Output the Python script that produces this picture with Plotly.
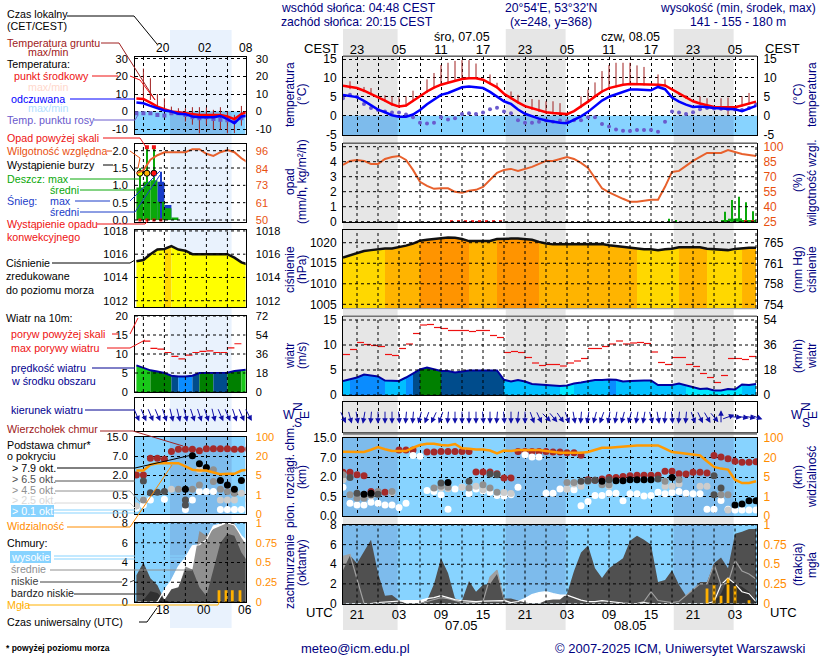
#!/usr/bin/python3
import math
import plotly.graph_objects as go

W, H = 820, 660
FONT = "Liberation Sans"
NAVY = "#000080"
SKY = "#87d3ff"
SKY_NIGHT = "#7dbbec"
BAND = "#e6e6e6"
BAND_LEFT = "#e9f2fd"
GRID_DASH = "3px,3px"
PX_PER_HOUR = 7.0
NO_COLOR = "rgba(0,0,0,0)"

# hours are counted in UTC from 06.05 00:00
HOURS = list(range(19, 79))
LEFT_HOURS = list(range(14, 31))

# sunset / sunrise pairs
NIGHTS = [(19, 26.8), (42.25, 50.8), (66.25, 74.8)]
LEFT_NIGHT = (18.8, 27.6)

# temperature, main panel
TEMP = [7.9, 7.6, 7.3, 6.6, 5.8, 4.8, 4.0, 3.0, 2.4, 2.7, 3.9, 5.3, 6.4, 7.4, 8.2, 8.7, 9.3, 9.7, 9.9, 9.9,
        9.5, 8.6, 7.5, 5.8, 4.6, 3.5, 2.5, 1.9, 1.3, 0.9, 0.7, 0.6, 0.4, 1.2, 2.4, 3.7, 5.1, 6.4, 7.3, 7.8,
        8.2, 8.4, 8.4, 8.2, 8.2, 8.2, 8.0, 6.9, 5.8, 4.8, 3.8, 3.2, 2.7, 2.3, 2.2, 2.2, 2.2, 2.7, 3.2, 3.7]
FEELS = [5.5, 5.2, 4.9, 3.9, 2.8, 1.6, 0.9, 0.1, -0.3, -0.3, 0.3, 1.5, 3.0, 4.2, 5.5, 6.0, 6.8, 7.5, 7.7, 7.6,
         7.3, 6.3, 5.1, 3.8, 3.1, 1.6, 0.5, -0.2, -0.8, -1.3, -1.6, -1.9, -2.0, -1.2, -0.2, 1.0, 2.6, 4.0, 5.0, 5.6,
         6.2, 6.9, 6.9, 6.8, 6.7, 7.6, 7.0, 4.8, 3.7, 2.9, 2.3, 2.4, 2.1, 2.0, 1.9, 1.8, 1.7, 1.2, 1.9, 2.6]
DEW = [4.6, 5.5, 5.0, 3.1, 2.0, 1.5, 1.1, 0.8, 0.8, 0.3, -0.4, -1.9, -2.1, -1.9, -0.4, -1.0, -0.7, 0.4, 0.6, 0.4,
       0.8, 1.7, 2.1, 1.1, 0.6, -1.2, -1.9, -1.9, -1.6, -1.3, -1.6, -1.3, -1.4, -1.2, -1.2, -0.4, -0.4, -2.2, -2.9, -3.7,
       -4.0, -4.1, -3.8, -3.8, -3.8, -4.3, -1.6, 1.1, 0.8, 0.4, 0.9, 1.7, 2.0, 1.9, 1.8, 1.7, 1.6, 1.5, 2.0, 2.9]
BAND_HOURS = [19, 21, 24, 27, 30, 33, 36, 39, 42, 45, 48, 51, 54, 57, 60, 63, 65, 66, 69, 72, 75, 78]
TEMP_MAX = [8.5, 8.0, 5.6, 3.3, 6.0, 8.8, 10.2, 10.1, 6.6, 3.4, 1.5, 1.0, 4.2, 7.9, 8.9, 8.7, 8.5, 7.4, 4.3, 2.8, 2.7, 4.1]
TEMP_MIN = [7.4, 6.5, 3.7, 1.4, 4.8, 7.6, 9.0, 8.8, 5.0, 1.7, 0.3, -0.2, 3.0, 6.8, 7.8, 7.8, 7.6, 6.2, 3.3, 1.9, 1.8, 3.3]
FEELS_MAX = [6.2, 5.6, 2.4, 0.4, 2.2, 6.0, 8.0, 7.9, 4.5, 1.1, -0.7, -1.3, 1.7, 5.6, 7.5, 7.3, 7.6, 5.4, 2.8, 2.5, 2.3, 3.1]
FEELS_MIN = [4.8, 3.4, 0.3, -1.4, 0.6, 4.5, 6.6, 6.4, 2.7, -0.7, -2.6, -3.2, -0.1, 4.0, 6.0, 6.0, 6.2, 3.9, 1.8, 1.4, 1.0, 2.0]
GROUND_HOURS = [20, 22, 23, 25, 26, 27, 28, 29, 31, 32, 33, 34, 35, 36, 37, 38, 40, 41, 43, 44, 46, 47, 48, 49, 50,
                53, 54, 55, 56, 57, 58, 59, 60, 61, 62, 64, 65, 67, 68, 70, 71, 73, 74, 76, 77]
GROUND_MAX = [9.1, 7.6, 7.3, 5.4, 5.1, 4.9, 5.1, 6.6, 9.6, 11.3, 13.4, 14.0, 14.5, 14.7, 14.7, 13.8, 10.9, 8.7, 6.4, 5.5, 4.4, 4.2, 3.8, 3.8, 3.3,
              5.1, 6.9, 8.8, 11.8, 13.4, 14.0, 14.0, 14.0, 13.3, 12.9, 10.9, 9.6, 6.0, 5.4, 5.1, 4.6, 4.6, 4.8, 5.1, 6.0]
GROUND_MIN = [7.0, 6.2, 5.4, 3.6, 2.6, 2.0, 2.4, 3.6, 6.0, 7.2, 8.0, 8.5, 9.0, 9.4, 9.7, 9.7, 8.3, 7.2, 4.3, 3.2, 1.5, 1.0, 0.5, 0.4, 0.2,
              2.0, 3.4, 4.8, 6.1, 7.0, 7.5, 7.9, 8.1, 8.1, 8.0, 7.9, 7.7, 5.4, 4.4, 2.9, 2.4, 1.4, 0.2, 2.4, 2.9]

# temperature, left panel
L_TEMP = [7.5, 7.2, 5.1, 2.8, 1.3, 0.0, -0.4, -1.0, -1.5, -1.9, -1.9, -1.9, -1.9, -2.8, -4.3, -1.5, 0.0]
L_FEELS = [5.1, 4.7, 3.2, 1.9, 0.6, 0.0, -1.3, -1.5, -2.8, -3.2, -3.4, -3.2, -2.5, -4.3, -6.6, -2.8, -2.3]
L_DEW = [-1.0, -0.9, -0.9, -1.9, -2.3, -0.9, -0.9, -1.9, -3.2, -3.8, -3.2, -4.3, -4.7, -5.0, -5.7, -3.8, -3.0]
L_TEMP_MAX = [13, 11, 9, 7, 6, 5, 4.5, 4, 3, 2, 1.5, 1.5, 1.5, 1, 0, 1, 1]
L_FEELS_MIN = [-3, -3, -3, -4, -4, -5, -5, -6, -7, -8, -9, -10, -10, -10, -10, -7, -6]
L_GROUND_HOURS = [15, 16, 17, 18, 19, 20, 21, 22, 23, 24, 25, 26, 27, 28, 29]
L_GROUND_MAX = [24.5, 19, 10, 7.5, 2.8, 1.9, 1.9, 2.5, 2.5, 2.3, 1, 2.5, 0, -1.9, 3.2]
L_GROUND_MIN = [7.5, 6.6, 1.9, 0, -1, -1.9, -5.7, -7.5, -12.4, -7.5, -10.4, -10.4, -12.4, -12.3, -8.1]

# precipitation, humidity
HUMIDITY = [82, 86, 87, 86, 83, 83, 88, 90, 91, 87, 77, 65, 61, 58, 58.5, 58.5, 55, 54, 56, 57,
            60, 67, 74, 77, 78, 76, 78, 80, 83, 86, 86, 88, 90, 88, 84, 79, 68.5, 58.5, 54.5, 51,
            48, 45, 45, 46, 47, 47, 60, 75, 76, 81, 86, 90, 94, 94, 94, 97, 95, 93, 92, 91]
CONV_HOURS = [34.5, 35.5, 36.5, 37.5, 38.5, 39.5, 40.5, 41.5, 76.5, 77.5]
RAIN_MAX_HOURS = [65.5, 66.5, 73.5, 74.5, 75.5, 76.5, 77.5]
RAIN_MAX = [0.2, 0.1, 0.67, 1.45, 1.67, 1.3, 0.7]
RAIN_MEAN_HOURS = [73.5, 74.5, 75.5, 76.5, 77.5]
RAIN_MEAN = [0.05, 0.2, 0.22, 0.1, 0.05]
L_HUMIDITY = [81, 83, 90, 93, 95, 95, 95, 95, 97, 97, 94, 92.5, 95, 96.5, 95, 91, 88]
L_RAIN_HOURS = [14.5, 15.5, 16.5, 17.5, 18.5, 19.5]
L_RAIN = [0.94, 1.1, 1.15, 0.53, 0.34, 0.07]
L_SNOW_HOURS = [17.5, 18.5]
L_SNOW = [1.1, 0.43]
L_SPIKE_HOURS = [14.5, 15.5, 16.5]
L_SPIKE = [1.49, 2.1, 2.1]
L_SNOW_SPIKE = [17.5, 1.39]
L_OVER_HOURS = [15.5, 16.5]
L_OVER = [2.1, 2.1]
L_STORM = [1.35, 1.35, 1.35]
L_STORM_COLORS = ["#ffff00", "#ffb000", "#ff1010"]
L_CONV_HOURS = [14.5, 15.5, 16.5, 17.5]

# pressure
PRESSURE = [1016.4, 1016.9, 1017.4, 1018.0, 1018.2, 1018.4, 1018.6, 1018.6, 1018.9, 1019.3, 1019.8, 1020.5, 1020.7, 1020.9, 1021.2, 1021.3,
            1021.2, 1020.9, 1020.4, 1020.4, 1020.4, 1020.44, 1020.9, 1021.0, 1021.0, 1021.0, 1020.9, 1020.7, 1020.2,
            1019.8, 1019.6, 1019.6, 1019.6, 1019.7, 1019.7, 1019.7, 1019.7, 1019.7, 1019.4, 1019.2, 1019.0, 1018.8, 1018.55, 1018.4, 1018.4,
            1018.2, 1018.4, 1018.55, 1018.9, 1018.9, 1018.9, 1018.9, 1018.55, 1018.4, 1018.2, 1018.2, 1018.5, 1018.7, 1018.8, 1018.8]
L_PRESSURE = [1015.4, 1015.5, 1016.0, 1016.4, 1016.45, 1016.7, 1016.4, 1016.3, 1016.0, 1016.0, 1016.0, 1016.0, 1016.0, 1016.0, 1015.7, 1015.3, 1015.1]

# wind
WIND = [2.8, 3.1, 3.5, 4.1, 3.9, 3.7, 2.9, 2.8, 2.8, 3.5, 4.3, 5.1, 5.5, 5.1, 4.8, 4.8, 4.5, 4.7, 4.9, 4.9,
        4.9, 4.9, 4.9, 3.04, 2.7, 3.0, 2.7, 2.2, 2.1, 2.0, 2.0, 1.8, 1.9, 2.3, 2.5, 2.8, 3.0, 3.0, 3.1, 3.04,
        2.7, 2.8, 2.9, 2.9, 2.9, 2.0, 2.0, 2.0, 2.3, 1.95, 1.5, 1.2, 1.3, 0.9, 0.9, 1.2, 1.1, 2.1, 2.0, 2.2]
GUST = [8.1, 9.1, 10.5, 10.1, 9.9, 9.7, 8.1, 7.9, 9.3, 10.2, 12.3, 14.0, 14.1, 13.5, 13.3, 12.9, 12.9, 12.9, 12.7, 12.9,
        12.9, 11.9, 11.5, 8.5, 8.7, 8.5, 7.5, 6.4, 5.9, 6.1, 6.1, 5.8, 6.4, 6.8, 7.3, 9.3, 9.3, 9.7, 10.2, 10.8,
        10.2, 10.4, 10.5, 10.3, 8.6, 6.5, 6.1, 7.5, 7.5, 6.1, 5.7, 4.3, 3.5, 2.5, 3.9, 7.3, 7.3, 7.1, 7.7]
WIND_DIR = [335, 345, 350, 10, 5, 0, 0, 0, 355, 5, 5, 15, 20, 25, 20, 5, 0, 0, 0, 0,
            355, 0, 5, 355, 0, 5, 0, 340, 335, 315, 320, 325, 340, 350, 5, 10, 15, 20, 10, 10,
            15, 15, 10, 10, 345, 350, 5, 355, 5, 5, 340, 335, 330, 320, 180, 250, 275, 280, 280, 290]
L_WIND = [7.0, 6.3, 5.7, 5.4, 5.0, 4.3, 4.1, 4.1, 4.3, 5.0, 5.0, 4.95, 4.95, 5.05, 5.5, 5.8, 5.9]
L_GUST_HOURS = [15, 16, 17, 18, 19, 20, 21, 22, 23, 24, 25, 26, 27, 28]
L_GUST = [13.4, 11.5, 11.3, 10.4, 9.4, 8.7, 9.7, 10.4, 10.7, 10.8, 10.4, 10.4, 11.6, 12.7]
L_WIND_DIR = [335, 335, 335, 335, 340, 345, 345, 345, 340, 340, 340, 345, 335, 335, 340, 335, 330]

# cloud base, as positions on the 0 / 0.5 / 2 / 7 / 15 km scale
SCALE_TICKS = [0, 1, 2, 3, 4]
TOP_H = [19, 20, 21, 22, 23, 24, 25, 27, 28, 29, 31, 32, 33, 34, 35, 36, 37, 38, 39, 40, 41, 42, 43, 44, 45, 46, 47, 48,
         49, 50, 51, 52, 53, 54, 55, 56, 57, 58, 59, 60, 61, 62, 63, 64, 65, 66, 67, 68, 69, 70, 71, 72, 73, 74, 75, 76, 77, 78]
TOP_L = [2.24, 2.24, 2.12, 2.07, 1.26, 1.22, 1.22, 3.38, 3.38, 3.38, 3.28, 3.28, 3.31, 3.31, 3.31, 3.31, 3.31, 2.26, 2.26, 2.26, 2.17, 1.95, 1.95, 3.31, 3.31, 3.31, 3.31, 3.31,
         3.28, 3.28, 3.24, 3.24, 3.12, 1.86, 1.83, 1.90, 1.98, 1.98, 2.03, 2.07, 2.09, 2.09, 2.09, 2.09, 2.29, 2.29, 2.17, 2.16, 2.24, 2.24, 2.21, 3.10, 3.03, 2.93, 2.81, 2.76, 2.76, 2.78]
BLACK_H = [22, 23, 34, 56, 58, 59, 60, 61, 62, 63, 66, 75, 76, 77, 78]
BLACK_L = [1.12, 1.17, 1.72, 1.78, 1.81, 1.81, 1.86, 1.86, 1.86, 1.86, 1.98, 0.57, 0.62, 0.78, 0.78]
DARK_H = [20, 21, 23, 24, 33, 37, 40, 41, 53, 54, 55, 57, 64, 72, 73, 72]
DARK_L = [1.98, 1.17, 1.09, 1.12, 1.69, 1.78, 2.16, 2.12, 1.78, 1.81, 1.83, 1.86, 1.90, 2.07, 1.43, 1.09]
GRAY_H = [19, 20, 21, 22, 24, 26, 32, 33, 34, 37, 39, 40, 41, 51, 52, 54, 56, 57, 65, 67, 73, 74]
GRAY_L = [2.12, 1.09, 0.91, 0.91, 1.26, 1.26, 1.43, 1.52, 1.47, 1.43, 1.60, 1.43, 1.22, 1.72, 1.72, 1.78, 1.60, 1.60, 1.78, 1.86, 1.09, 1.09]
LIGHT_H = [19, 22, 23, 26, 33, 34, 36, 38, 39, 42, 43, 51, 52, 53, 57, 65, 66, 67, 70, 71, 73, 74]
LIGHT_L = [1.86, 1.03, 1.03, 1.21, 1.43, 1.40, 1.48, 1.52, 1.34, 1.21, 1.16, 1.38, 1.64, 1.52, 1.52, 1.52, 1.52, 1.64, 1.52, 1.52, 1.09, 0.31]
WHITE_H = [19, 20, 21, 22, 23, 24, 25, 26, 27, 28, 29, 30, 31, 32, 33, 34, 35, 36, 37, 38, 39, 40, 41, 42, 43, 44, 45, 46, 47, 48,
           49, 50, 51, 52, 53, 54, 55, 56, 57, 58, 59, 60, 61, 62, 63, 64, 65, 66, 67, 68, 69, 70, 71, 72, 73, 74, 75, 76, 77, 78]
WHITE_L = [1.48, 0.66, 0.57, 0.57, 0.71, 0.66, 0.57, 0.57, 0.43, 0.66, 3.10, 3.07, 1.31, 1.26, 1.09, 0.34, 1.38, 1.48, 1.16, 1.38, 1.29, 1.22, 1.05, 1.03, 1.09, 1.47, 3.14, 3.03, 3.03, 1.17,
           1.17, 1.38, 1.38, 1.34, 0.52, 0.74, 1.05, 1.05, 1.17, 1.17, 0.78, 1.14, 1.14, 1.03, 1.05, 1.22, 1.14, 1.21, 1.26, 1.17, 1.14, 1.14, 0.34, 0.34, 0.79, 0.34, 0.31, 0.31, 0.31, 0.31]
VISIBILITY = [3.29, 3.28, 3.28, 3.28, 3.40, 3.53, 3.42, 3.33, 3.33, 3.33, 3.50, 3.64, 3.71, 3.71, 3.64, 3.62, 3.69, 3.47, 3.45, 3.41,
              3.41, 3.36, 3.21, 3.36, 3.33, 3.38, 3.38, 3.38, 3.38, 3.33, 3.28, 3.24, 3.24, 3.24, 3.24, 3.28, 3.38, 3.50, 3.50, 3.53,
              3.59, 3.59, 3.62, 3.62, 3.62, 3.62, 3.45, 3.28, 3.24, 3.19, 3.14, 3.10, 2.81, 2.52, 2.43, 2.38, 1.86, 1.69, 1.69, 1.78]
L_TOP = [2.03, 2.03, 2.9, 2.9, 2.85, 3.25, 3.37, 3.37, 3.37, 3.29, 3.39, 3.39, 3.39, 3.39, 3.37, 3.37, 3.37]
L_BLACK_H = [21, 22, 23, 24, 26, 27, 28, 29]
L_BLACK = [1.29, 3.03, 2.61, 2.42, 1.74, 1.51, 1.29, 1.74]
L_DARK_H = [15, 16, 17, 18, 21, 21]
L_DARK = [1.72, 1.11, 1.13, 1.17, 0.73, 0.47]
L_GRAY_H = [15, 20, 22, 23, 25, 25, 26, 27, 28]
L_GRAY = [0.73, 1.29, 1.29, 1.51, 2.3, 1.69, 1.29, 1.17, 1.08]
L_LIGHT_H = [14, 19, 23, 26, 27, 28, 29, 30]
L_LIGHT = [0.42, 1.29, 2.3, 0.73, 0.73, 0.73, 1.08, 0.73]
L_WHITE_H = [14, 15, 15, 16, 18, 21, 22, 23, 24, 25, 26, 27, 28, 29]
L_WHITE = [0.3, 0.47, 0.73, 0.73, 0.77, 0.24, 0.73, 1.17, 1.17, 1.17, 0.24, 0.24, 0.24, 0.24]
L_VISIBILITY = [2.26, 2.26, 2.56, 2.64, 2.64, 2.64, 2.64, 2.47, 2.3, 2.26, 2.26, 2.16, 2.07, 2.09, 2.09, 2.26, 2.3]

# cloud cover, octants
CLOUD_LOW = [3.4, 4.9, 4.1, 5.3, 6.5, 3.1, 0.8, 0.86, 0.3, 0, 0, 0, 0.3, 2.0, 4.6, 3.1, 0.5, 0.3, 2.3, 1.2,
             1.9, 2.0, 3.0, 0.5, 0.5, 0.3, 0.1, 0, 0, 0.3, 0.4, 0.4, 1.0, 3.3, 5.2, 5.9, 3.6, 2.6, 3.6, 4.1,
             4.6, 6.4, 6.9, 6.5, 6.0, 2.2, 2.4, 3.4, 1.9, 0.8, 1.4, 2.2, 2.2, 4.1, 4.7, 3.6, 7.1, 7.3, 7.6, 7.6]
CLOUD_MID = [4.8, 5.0, 2.5, 0, 0, 0, 0, 0, 0, 0, 0, 0, 0.2, 0.4, 0.6, 0.5, 0.3, 0.1, 0.1, 0.1,
             0.2, 2.7, 3.4, 0.4, 0, 0, 0, 0, 0, 0, 0, 0, 0, 0, 0, 0, 0, 0, 0, 0,
             0, 0, 0, 0.2, 1.2, 0.3, 0.2, 0.1, 0.2, 0.8, 1.4, 2.0, 2.0, 4.0, 1.9, 2.1, 4.4, 3.3, 3.0, 2.5]
CLOUD_HIGH = [0, 0, 0, 0, 0, 0.1, 0.15, 0.25, 0.3, 0.3, 0.3, 0.3, 0.5, 0.6, 0.8, 0.6, 0.4, 0.3, 0.25, 0.2,
              0.25, 0.25, 0.3, 0.3, 0.1, 0.2, 0.5, 0.9, 1.1, 1.2, 1.0, 0.86, 0.85, 0.6, 0.35, 0.2, 0.2, 0.3, 0.2, 0.1,
              0.05, 0, 0, 0.1, 0, 0, 0, 0, 0, 0, 0, 0, 0, 0.2, 1.9, 2.6, 2.0, 1.2, 1.0, 0.2]
CLOUD_VLOW = [0, 0, 0, 0, 0, 0, 0, 0, 0, 0, 0, 0, 0, 0, 0, 0, 0, 0, 0, 0,
              0, 0, 0, 0, 0, 0, 0, 0, 0, 0, 0, 0, 0, 0, 0, 0, 0, 0, 0, 0,
              0, 0, 0, 0, 0, 0, 0, 0, 0, 0, 0, 0, 0, 0.2, 1.0, 2.6, 2.0, 1.7, 1.2, 0.3]
FOG_HOURS = [71, 72, 73, 74, 75, 77]
FOG = [0.19, 0.24, 0.1, 0.32, 0.22, 0.04]
L_CLOUD_LOW = [2.7, 4.0, 2.4, 1.7, 0.2, 1.3, 1.5, 3.3, 3.3, 1.5, 0.6, 3.3, 6.0, 6.9, 6.7, 5.0, 4.0]
L_CLOUD_MID = [0, 0, 0, 0, 0, 0.8, 1.4, 3.6, 3.3, 7.2, 6.7, 7.4, 7.7, 8.0, 8.0, 6.5, 5.5]
L_CLOUD_HIGH = [0, 0, 0, 0, 1.2, 2.2, 3.6, 4.5, 5.7, 5.8, 6.3, 7.7, 7.9, 8.0, 7.8, 6.7, 6.0]
L_CLOUD_VLOW = [0, 0.2, 1.1, 0.9, 0.2, 0, 0, 0, 0, 0, 0, 0, 0, 0, 0, 0, 0]
L_FOG_HOURS = [25.8, 26.8, 27.7, 28.8]
L_FOG = [0.15, 0.15, 0.15, 0.15]

# tick labels
MAIN_GRID = list(range(21, 79, 3))
LOCAL_LABELS = ["23", "", "05", "", "11", "", "17", "", "23", "", "05", "", "11", "", "17", "", "23", "", "05", ""]
UTC_LABELS = ["21", "", "03", "", "09", "", "15", "", "21", "", "03", "", "09", "", "15", "", "21", "", "03", ""]
LEFT_GRID = [15, 18, 21, 24, 27]
HEIGHT_LABELS = ["0.0", "0.5", "2.0", "7.0", "15.0"]
VIS_LABELS = ["0", "1", "5", "20", "100"]

fig = go.Figure()
layout = {}
shapes = []
notes = []


def xp(px):
    return px / W


def yp(px):
    return 1 - px / H


def panel(n, box, xr, yr, grid, yticks, ylabels=None, on_top=False, xlabels=None, xside="bottom"):
    x0, x1, y0, y1 = box
    tick_size = 11 if n < 20 else 12
    layout[f"xaxis{n}"] = dict(domain=[xp(x0), xp(x1)], range=xr, anchor=f"y{n}", tickmode="array", tickvals=grid,
                               ticktext=xlabels or [""] * len(grid), showticklabels=bool(xlabels), side=xside,
                               showgrid=not on_top, gridcolor="black", griddash=GRID_DASH, gridwidth=1,
                               showline=True, mirror=True, linecolor="black", linewidth=1, zeroline=False,
                               ticks="", ticklen=0, tickfont=dict(size=13),
                               ticklabelstandoff=-3 if xside == "top" else -1)
    layout[f"yaxis{n}"] = dict(domain=[yp(y1), yp(y0)], range=yr, anchor=f"x{n}", tickmode="array", tickvals=yticks,
                               ticktext=ylabels or [str(v) for v in yticks], showticklabels=bool(yticks),
                               showgrid=not on_top, gridcolor="black", griddash=GRID_DASH, gridwidth=1,
                               showline=True, mirror=True, linecolor="black", linewidth=1, zeroline=False,
                               ticks="outside", ticklen=4 if n < 20 else 3, tickcolor=NO_COLOR,
                               tickfont=dict(size=tick_size))
    if on_top:
        path = "".join(f"M{g},{yr[0]}L{g},{yr[1]}" for g in grid)
        path += "".join(f"M{xr[0]},{t}L{xr[1]},{t}" for t in yticks)
        shapes.append(dict(type="path", path=path, xref=f"x{n}", yref=f"y{n}", layer="above",
                           line=dict(color="black", width=1, dash=GRID_DASH)))


def right_axis(n, yr, ticks, labels=None, color="black"):
    m = n + 20
    layout[f"yaxis{m}"] = dict(domain=layout[f"yaxis{n}"]["domain"], range=yr, anchor=f"x{n}", overlaying=f"y{n}",
                               side="right", tickmode="array", tickvals=ticks,
                               ticktext=labels or [str(v) for v in ticks], showgrid=False, zeroline=False,
                               ticks="outside", ticklen=7 if n < 20 else 3, tickcolor=NO_COLOR,
                               tickfont=dict(size=11 if n < 20 else 12, color=color))
    fig.add_trace(go.Scatter(x=[layout[f"xaxis{n}"]["range"][0]] * len(ticks), y=ticks, mode="markers",
                             marker=dict(opacity=0, size=1), xaxis=f"x{n}", yaxis=f"y{m}",
                             showlegend=False, hoverinfo="skip"))
    return m


def line(n, x, y, color, width=2, m=None, **kw):
    fig.add_trace(go.Scatter(x=x, y=y, mode="lines", line=dict(color=color, width=width), xaxis=f"x{n}",
                             yaxis=f"y{m or n}", showlegend=False, hoverinfo="skip", **kw))


def area(n, x, y, color, m=None):
    fig.add_trace(go.Scatter(x=x, y=y, mode="none", fill="tozeroy", fillcolor=color, xaxis=f"x{n}",
                             yaxis=f"y{m or n}", showlegend=False, hoverinfo="skip"))


def between(n, x, upper, lower, color):
    fig.add_trace(go.Scatter(x=x, y=upper, mode="none", xaxis=f"x{n}", yaxis=f"y{n}", showlegend=False, hoverinfo="skip"))
    fig.add_trace(go.Scatter(x=x, y=lower, mode="none", fill="tonexty", fillcolor=color, xaxis=f"x{n}",
                             yaxis=f"y{n}", showlegend=False, hoverinfo="skip"))


def dots(n, x, y, color, size=7, symbol="circle", m=None):
    fig.add_trace(go.Scatter(x=x, y=y, mode="markers", marker=dict(color=color, size=size, symbol=symbol, line=dict(width=0)),
                             xaxis=f"x{n}", yaxis=f"y{m or n}", showlegend=False, hoverinfo="skip"))


def bars(n, x, y, color, width, m=None):
    fig.add_trace(go.Bar(x=x, y=y, width=width, marker=dict(color=color, line=dict(width=0)), xaxis=f"x{n}",
                         yaxis=f"y{m or n}", showlegend=False, hoverinfo="skip"))


def sticks(n, x, lo, hi, color):
    xs, ys = [], []
    for a, b, c in zip(x, lo, hi):
        xs += [a, a, None]
        ys += [b, c, None]
    line(n, xs, ys, color, width=1)


def steps(n, x, y, color):
    xs, ys = [], []
    for a, b in zip(x, y):
        xs += [a, a + 1, None]
        ys += [b, b, None]
    line(n, xs, ys, color, width=1.2)


def colored_area(n, x, y, color_of):
    start = 0
    for i in range(1, len(x) + 1):
        if i == len(x) or color_of(y[i]) != color_of(y[start]):
            j = min(i, len(x) - 1)
            area(n, x[start:j + 1], y[start:j + 1], color_of(y[start]))
            start = i


def pressure_color(p):
    if p < 1018.6:
        return "#ffd800"
    return "#ffb400" if p < 1020.45 else "#ff9400"


def left_pressure_color(p):
    return "#ffd700" if 1016.42 <= p < 1016.5 else "#ffff00"


def wind_color(v):
    if v < 2:
        return "#00e8ff"
    if v < 3.05:
        return "#00bfff"
    if v < 4.2:
        return "#0a8cff"
    if v < 5:
        return "#004c8c"
    return "#008000" if v < 5.75 else "#19c819"


def arrows(n, x, dirs):
    for h, d in zip(x, dirs):
        dx = 6.8 * math.sin(math.radians(d + 180)) / PX_PER_HOUR
        dy = 6.8 * math.cos(math.radians(d + 180))
        fig.add_annotation(x=h + dx, y=15 + dy, ax=h - dx, ay=15 - dy, xref=f"x{n}", yref=f"y{n}", axref=f"x{n}",
                           ayref=f"y{n}", text="", showarrow=True, arrowhead=2, arrowsize=1.1, arrowwidth=1,
                           arrowcolor="#1010a8")


def rect(xref, x0, x1, yref, y0, y1, color):
    shapes.append(dict(type="rect", xref=xref, x0=x0, x1=x1, yref=yref, y0=y0, y1=y1, layer="below",
                       fillcolor=color, line=dict(width=0)))


def conn(points, color="black", width=1):
    path = "M" + "L".join(f"{xp(a)},{yp(b)}" for a, b in points)
    shapes.append(dict(type="path", path=path, xref="paper", yref="paper", layer="above",
                       line=dict(color=color, width=width)))


def txt(x, y, s, color="black", size=10.7, anchor="left", angle=0):
    notes.append(dict(x=xp(x), y=yp(y), xref="paper", yref="paper", text=s, showarrow=False, xanchor=anchor,
                      yanchor="middle", font=dict(color=color, size=size, family=FONT), textangle=angle, borderpad=0))


MAIN_X = [19, 78.14]
LEFT_X = [13.8, 29.6]
ML, MR = 343, 757
LL, LR = 135, 245.6

# night bands go underneath everything
panel(21, (ML, MR, 57, 135), MAIN_X, [-5.13, 15.53], MAIN_GRID, [-5, 0, 5, 10, 15], xlabels=LOCAL_LABELS, xside="top")
panel(22, (ML, MR, 144, 222), MAIN_X, [-0.02, 5.18], MAIN_GRID, [0, 1, 2, 3, 4, 5], on_top=True)
panel(23, (ML, MR, 230, 308), MAIN_X, [1004.1, 1023.1], MAIN_GRID, [1005, 1010, 1015, 1020], on_top=True)
panel(24, (ML, MR, 317, 395), MAIN_X, [0, 15.6], MAIN_GRID, [0, 5, 10, 15], on_top=True)
panel(25, (ML, MR, 402, 432), MAIN_X, [0, 30], MAIN_GRID, [])
panel(26, (ML, MR, 438, 516), MAIN_X, [0, 4], MAIN_GRID, SCALE_TICKS, HEIGHT_LABELS)
panel(27, (ML, MR, 525, 603.5), MAIN_X, [0, 8], MAIN_GRID, [0, 2, 4, 6, 8], on_top=True, xlabels=UTC_LABELS)

panel(11, (LL, LR, 57, 134), LEFT_X, [-12.8, 31.1], LEFT_GRID, [-10, 0, 10, 20, 30])
panel(12, (LL, LR, 144, 222), LEFT_X, [-0.058, 2.193], LEFT_GRID, [0, 0.5, 1, 1.5, 2],
      ["0.0", "0.5", "1.0", "1.5", "2.0"], on_top=True)
panel(13, (LL, LR, 230, 307), LEFT_X, [1011.46, 1018.08], LEFT_GRID, [1012, 1014, 1016, 1018], on_top=True)
panel(14, (LL, LR, 316, 392), LEFT_X, [0, 20], LEFT_GRID, [0, 5, 10, 15, 20], on_top=True)
panel(15, (LL, LR, 398, 431), LEFT_X, [0, 30], LEFT_GRID, [])
panel(16, (LL, LR, 437, 514), LEFT_X, [0, 4], LEFT_GRID, SCALE_TICKS, HEIGHT_LABELS)
panel(17, (LL, LR, 523, 602), LEFT_X, [0, 8], LEFT_GRID, [0, 2, 4, 6, 8], on_top=True)

for a, b in NIGHTS:
    rect("x21", a, b, "paper", yp(630), yp(29), BAND)
rect("x11", LEFT_NIGHT[0], LEFT_NIGHT[1], "paper", yp(628), yp(30), BAND_LEFT)

# sky colour behind the panels that have one
rect("x21", MAIN_X[0], MAIN_X[1], "y21", -5.13, 0, SKY)
rect("x26", MAIN_X[0], MAIN_X[1], "y26", 0, 4, SKY)
rect("x27", MAIN_X[0], MAIN_X[1], "y27", 0, 8, SKY)
for a, b in NIGHTS:
    rect("x21", a, b, "y21", -5.13, 0, SKY_NIGHT)
    rect("x26", a, b, "y26", 0, 4, SKY_NIGHT)
    rect("x27", a, b, "y27", 0, 8, SKY_NIGHT)
rect("x11", LEFT_X[0], LEFT_X[1], "y11", -12.8, 0, SKY)
rect("x16", LEFT_X[0], LEFT_X[1], "y16", 0, 4, SKY)
rect("x17", LEFT_X[0], LEFT_X[1], "y17", 0, 8, SKY)
rect("x11", LEFT_NIGHT[0], LEFT_NIGHT[1], "y11", -12.8, 0, SKY_NIGHT)
rect("x16", LEFT_NIGHT[0], LEFT_NIGHT[1], "y16", 0, 4, SKY_NIGHT)
rect("x17", LEFT_NIGHT[0], LEFT_NIGHT[1], "y17", 0, 8, SKY_NIGHT)

# temperature
between(21, BAND_HOURS, TEMP_MAX, TEMP_MIN, "#ffd9d0")
between(21, BAND_HOURS, FEELS_MAX, FEELS_MIN, "#b8e2ff")
sticks(21, GROUND_HOURS, GROUND_MIN, GROUND_MAX, "#a02020")
dots(21, HOURS, DEW, "#6a5acd", size=4)
line(21, HOURS, TEMP, "#ff0000", width=2.5)
line(21, HOURS, FEELS, "#0000ff", width=2.5)
right_axis(21, [-5.13, 15.53], [-5, 0, 5, 10, 15])

between(11, LEFT_HOURS, L_TEMP_MAX, L_TEMP, "#ffe4d8")
between(11, LEFT_HOURS, L_FEELS, L_FEELS_MIN, "#a8dcff")
sticks(11, L_GROUND_HOURS, L_GROUND_MIN, L_GROUND_MAX, "#a02020")
dots(11, LEFT_HOURS, L_DEW, "#6a5acd", size=4, symbol="square")
line(11, LEFT_HOURS, L_TEMP, "#ff0000", width=2.5)
line(11, LEFT_HOURS, L_FEELS, "#0000ff", width=2.5)
right_axis(11, [-12.8, 31.1], [-10, 0, 10, 20, 30])

# precipitation and humidity
bars(22, RAIN_MAX_HOURS, RAIN_MAX, "#0aa80a", 0.14)
bars(22, RAIN_MEAN_HOURS, RAIN_MEAN, "#0aa80a", 1)
dots(22, CONV_HOURS, [0] * len(CONV_HOURS), "#ee1111", size=3, symbol="square")
m = right_axis(22, [24.7, 103], [25, 40, 55, 70, 85, 100], color="#e8500f")
line(22, HOURS, HUMIDITY, "#e8602c", width=2, m=m)

bars(12, L_SNOW_HOURS, L_SNOW, "#1a3cc8", 1)
bars(12, L_RAIN_HOURS, L_RAIN, "#0aa80a", 1)
bars(12, L_SPIKE_HOURS, L_SPIKE, "#0aa80a", 0.14)
bars(12, L_SNOW_SPIKE[:1], L_SNOW_SPIKE[1:], "#1a3cc8", 0.14)
dots(12, L_CONV_HOURS, [0] * len(L_CONV_HOURS), "#ee1111", size=3, symbol="square")
dots(12, L_OVER_HOURS, L_OVER, "#ee1111", size=4, symbol="square")
fig.add_trace(go.Scatter(x=L_SPIKE_HOURS, y=L_STORM, mode="markers", xaxis="x12", yaxis="y12", showlegend=False,
                         hoverinfo="skip", marker=dict(color=L_STORM_COLORS, size=6, line=dict(color="black", width=1))))
m = right_axis(12, [48.7, 100.45], [50, 61, 73, 84, 96], color="#e8500f")
line(12, LEFT_HOURS, L_HUMIDITY, "#e8602c", width=2, m=m)

# pressure
colored_area(23, HOURS, PRESSURE, pressure_color)
line(23, HOURS, PRESSURE, "#111111", width=2.5)
right_axis(23, [753.16, 767.39], [753.8, 757.6, 761.3, 765.1], ["754", "758", "761", "765"])

colored_area(13, LEFT_HOURS, L_PRESSURE, left_pressure_color)
line(13, LEFT_HOURS, L_PRESSURE, "#111111", width=2.5)
right_axis(13, [1011.46, 1018.08], [1012, 1014, 1016, 1018])

# wind
colored_area(24, HOURS, WIND, wind_color)
line(24, HOURS, WIND, "#0000a0", width=2)
steps(24, HOURS[:-1], GUST, "#ee1111")
right_axis(24, [0, 56.16], [0, 18, 36, 54])

colored_area(14, LEFT_HOURS, L_WIND, wind_color)
line(14, LEFT_HOURS, L_WIND, "#0000a0", width=2)
steps(14, L_GUST_HOURS, L_GUST, "#ee1111")
right_axis(14, [0, 72], [0, 18, 36, 54, 72])

# wind direction
for n, r in ((25, MAIN_X), (15, LEFT_X)):
    fig.add_trace(go.Scatter(x=r, y=[15, 15], mode="markers", marker=dict(opacity=0, size=1), xaxis=f"x{n}",
                             yaxis=f"y{n}", showlegend=False, hoverinfo="skip"))
arrows(25, HOURS, WIND_DIR)
arrows(15, LEFT_HOURS, L_WIND_DIR)

# cloud base
for n, top, wh, lg, gr, dk, bl in (
        (26, (TOP_H, TOP_L), (WHITE_H, WHITE_L), (LIGHT_H, LIGHT_L), (GRAY_H, GRAY_L), (DARK_H, DARK_L), (BLACK_H, BLACK_L)),
        (16, (LEFT_HOURS, L_TOP), (L_WHITE_H, L_WHITE), (L_LIGHT_H, L_LIGHT), (L_GRAY_H, L_GRAY), (L_DARK_H, L_DARK), (L_BLACK_H, L_BLACK))):
    dots(n, top[0], top[1], "#a52a2a")
    dots(n, wh[0], wh[1], "#ffffff")
    dots(n, lg[0], lg[1], "#cccccc")
    dots(n, gr[0], gr[1], "#909090")
    dots(n, dk[0], dk[1], "#505050")
    dots(n, bl[0], bl[1], "#000000")
m = right_axis(26, [0, 4], SCALE_TICKS, VIS_LABELS, color="#ff8c00")
line(26, HOURS, VISIBILITY, "#ff9900", width=2.5, m=m)
m = right_axis(16, [0, 4], SCALE_TICKS, VIS_LABELS, color="#ff8c00")
line(16, LEFT_HOURS, L_VISIBILITY, "#ff9900", width=2.5, m=m)

# cloud cover
area(27, HOURS, CLOUD_HIGH, "#ffffff")
area(27, HOURS, CLOUD_MID, "#a0a0a0")
area(27, HOURS, CLOUD_LOW, "#505050")
area(27, HOURS, CLOUD_VLOW, "#303030")
line(27, HOURS, CLOUD_MID, "#a0a0a0", width=1.2)
line(27, HOURS, CLOUD_HIGH, "#ffffff", width=1.2)
m = right_axis(27, [0, 1], [0, 0.25, 0.5, 0.75, 1], color="#ff8c00")
bars(27, FOG_HOURS, FOG, "#ffb000", 0.4, m=m)

area(17, LEFT_HOURS, L_CLOUD_HIGH, "#ffffff")
area(17, LEFT_HOURS, L_CLOUD_MID, "#909090")
area(17, LEFT_HOURS, L_CLOUD_LOW, "#505050")
area(17, LEFT_HOURS, L_CLOUD_VLOW, "#303030")
line(17, LEFT_HOURS, L_CLOUD_HIGH, "#ffffff", width=1.2)
m = right_axis(17, [0, 1], [0, 0.25, 0.5, 0.75, 1], color="#ff8c00")
bars(17, L_FOG_HOURS, L_FOG, "#ffb000", 0.4, m=m)

# gray shadow rules around the main panels
for y, c, w in ((56, "#888888", 1.5), (143, "#888888", 1.5), (316, "#999999", 1.5), (309, "#dddddd", 1.5), (433.5, "#777777", 2.5)):
    conn([(ML, y), (MR, y)], c, w)

# header
txt(280, 8, "wschód słońca: 04:48 CEST", NAVY, 12.2)
txt(280, 22, "zachód słońca: 20:15 CEST", NAVY, 12.2)
txt(551, 8, "20°54'E, 53°32'N", NAVY, 12.2, "center")
txt(551, 22, "(x=248, y=368)", NAVY, 12.2, "center")
txt(738, 8, "wysokość (min, środek, max)", NAVY, 12, "center")
txt(738, 22, "141 - 155 - 180 m", NAVY, 12.2, "center")
txt(462, 37, "śro, 07.05", "black", 12.5, "center")
txt(630, 37, "czw, 08.05", "black", 12.5, "center")
txt(303, 49, "CEST", "black", 13)
txt(764, 49, "CEST", "black", 13)
txt(305, 612, "UTC", "black", 13)
txt(769, 612, "UTC", "black", 13)
txt(462, 625, "07.05", "black", 13, "center")
txt(630, 625, "08.05", "black", 13, "center")
txt(355, 648, "meteo@icm.edu.pl", NAVY, 13, "center")
txt(680, 648, "© 2007-2025 ICM, Uniwersytet Warszawski", NAVY, 13, "center")

# axis names of the main column
for x, y, s in ((290, 95, "temperatura"), (302, 95, "(°C)"), (290, 182, "opad"), (302, 182, "(mm/h, kg/m²/h)"),
                (290, 270, "ciśnienie"), (302, 270, "(hPa)"), (290, 356, "wiatr"), (302, 356, "(m/s)"),
                (290, 477, "pion. rozciągł. chm."), (302, 477, "(km)"), (290, 572, "zachmurzenie"), (302, 563, "(oktanty)"),
                (798, 95, "(°C)"), (812, 95, "temperatura"), (798, 183, "(%)"), (812, 183, "wilgotność wzgl."),
                (798, 270, "(mm Hg)"), (812, 270, "ciśnienie"), (798, 356, "(km/h)"), (812, 356, "wiatr"),
                (798, 477, "(km)"), (812, 477, "widzialność"), (798, 565, "(frakcja)"), (812, 565, "mgła")):
    txt(x, y, s, NAVY, 12, "center", -90)

# compass roses
for cx in (297, 805):
    txt(cx - 8, 415, "W", NAVY, 12, "center")
    txt(cx + 1, 407, "N", NAVY, 12, "center", -90)
    txt(cx + 1, 423, "S", NAVY, 12, "center")
    txt(cx + 8, 415, "E", NAVY, 12, "center", -90)

# time labels of the left column
for x, s in ((163, "20"), (205, "02"), (246, "08")):
    txt(x, 48, s, "black", 12, "center")
for x, s in ((163, "18"), (204, "00"), (245, "06")):
    txt(x, 610, s, "black", 12, "center")

# legend down the left side
RED = "#ee1111"
DRED = "#a02020"
GREEN = "#0aa80a"
BLUE = "#1a3cc8"
ORANGE = "#ff8c00"
GOLD = "#ffb000"
rect("paper", xp(11), xp(54), "paper", yp(517), yp(505), SKY)
rect("paper", xp(10), xp(51), "paper", yp(563), yp(551), SKY)
for x, y, s, c in ((6, 14, "Czas lokalny", "black"), (6, 26, "(CET/CEST)", "black"),
                   (6, 43, "Temperatura gruntu", DRED), (27, 52, "max/min", DRED), (6, 64, "Temperatura:", "black"),
                   (13, 76, "punkt środkowy", RED), (27, 87, "max/min", "#ffd8cc"), (10, 99, "odczuwana", "#0000ff"),
                   (27, 108, "max/min", "#b0e0ff"), (6, 120, "Temp. punktu rosy", "#6a5acd"),
                   (6, 138, "Opad powyżej skali", RED), (6, 151, "Wilgotność względna", "#e8500f"),
                   (6, 165, "Wystąpienie burzy", "black"), (6, 179, "Deszcz: max", GREEN), (49, 190, "średni", GREEN),
                   (6, 201, "Śnieg:", BLUE), (49, 201, "max", BLUE), (49, 212, "średni", BLUE),
                   (6, 224, "Wystąpienie opadu", RED), (6, 237, "konwekcyjnego", RED),
                   (5, 263, "Ciśnienie", "black"), (5, 276, "zredukowane", "black"), (5, 290, "do poziomu morza", "black"),
                   (5, 318, "Wiatr na 10m:", "black"), (10, 334, "poryw powyżej skali", RED), (10, 348, "max porywy wiatru", RED),
                   (10, 368, "prędkość wiatru", "#000090"), (10, 381, "w środku obszaru", "#000090"),
                   (10, 410, "kierunek wiatru", "#000090"), (6, 429, "Wierzchołek chmur", DRED),
                   (6, 445, "Podstawa chmur*", "black"), (6, 456, "o pokryciu", "black"),
                   (11, 468, "> 7.9 okt.", "black"), (11, 479, "> 6.5 okt.", "#505050"), (11, 490, "> 4.5 okt.", "#909090"),
                   (11, 500, "> 2.5 okt.", "#d8d8d8"), (11, 511, "> 0.1 okt.", "white"), (6, 526, "Widzialność", ORANGE),
                   (6, 543, "Chmury:", "black"), (10, 557, "wysokie", "white"), (10, 569, "średnie", "#909090"),
                   (10, 581, "niskie", "#404040"), (10, 593, "bardzo niskie", "#202020"), (6, 605, "Mgła", GOLD),
                   (6, 622, "Czas uniwersalny (UTC)", "black")):
    txt(x, y, s, c)
txt(5, 648, "<b>* powyżej poziomu morza</b>", "black", 8.5)

conn([(67, 16), (134, 16), (157, 44)])
conn([(101, 43), (119, 43), (155, 100)], DRED)
conn([(92, 76), (118, 76)], RED)
conn([(130, 76), (140, 80), (155, 100)], RED)
conn([(70, 99), (135, 99)], "#0000ff")
conn([(94, 120), (135, 120), (138, 115)], "#6a5acd")
conn([(103, 138), (140, 138), (146, 147)], RED)
conn([(107, 151), (112, 151)], "#e8500f")
conn([(130, 151), (140, 158), (138, 168)], "#e8500f")
conn([(103, 165), (113, 165)])
conn([(130, 165), (135, 172)])
conn([(70, 179), (140, 179)], GREEN)
conn([(80, 190), (140, 190)], GREEN)
conn([(75, 201), (110, 201)], BLUE)
conn([(130, 201), (160, 171)], BLUE)
conn([(80, 212), (135, 212), (160, 175)], BLUE)
conn([(97, 224), (145, 224), (148, 221)], RED)
conn([(52, 263), (130, 263), (135, 260)])
conn([(112, 334), (118, 334)], RED)
conn([(130, 334), (138, 318)], RED)
conn([(107, 348), (130, 348), (145, 340)], RED)
conn([(92, 368), (135, 368)], "#000090")
conn([(85, 410), (135, 410)], "#000090")
conn([(100, 431), (133, 431), (183, 446)], DRED)
conn([(57, 468), (135, 468), (192, 455)])
conn([(55, 481), (135, 481)], "#505050")
conn([(55, 491), (130, 491), (140, 502)], "#909090")
conn([(55, 503), (130, 503), (137, 510)], "#d8d8d8")
conn([(54, 510), (135, 510)], SKY)
conn([(54, 513), (135, 513)], SKY)
conn([(67, 527), (130, 527), (172, 465)], ORANGE)
conn([(54, 556), (185, 556)], SKY)
conn([(54, 559), (185, 559)], SKY)
conn([(50, 570), (192, 570)], "#909090")
conn([(40, 582), (122, 582)], "#404040")
conn([(130, 582), (135, 580)], "#404040")
conn([(74, 594), (145, 594)], "#202020")
conn([(28, 605), (218, 605), (220, 600)], GOLD)
conn([(139, 622), (147, 622), (157, 608)])

layout.update(width=W, height=H, margin=dict(l=0, r=0, t=0, b=0, autoexpand=False), paper_bgcolor="white",
              plot_bgcolor=NO_COLOR, barmode="overlay", showlegend=False,
              font=dict(family=FONT, size=12, color="black"),
              shapes=shapes, annotations=list(fig.layout.annotations) + notes)
fig.update_layout(**layout)

fig.write_html("out.html", config=dict(displayModeBar=False), post_script="document.body.style.margin='0';")
